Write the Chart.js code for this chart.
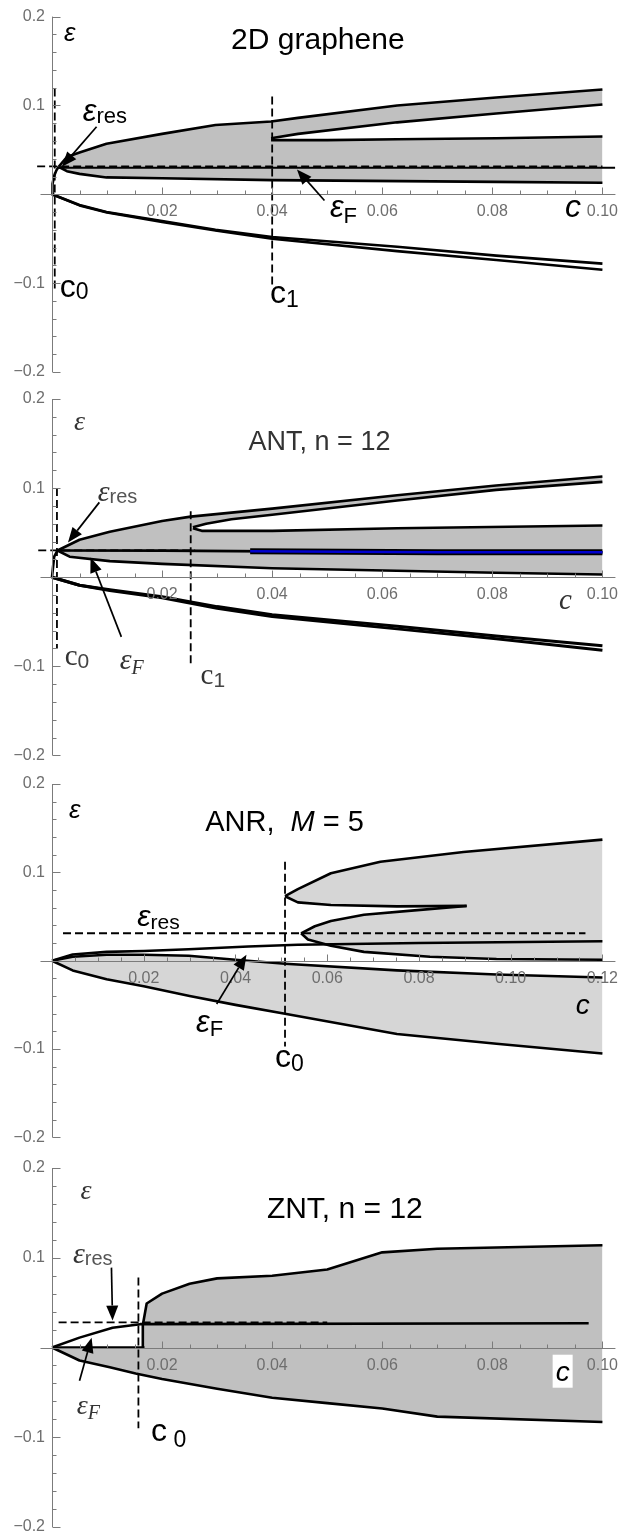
<!DOCTYPE html><html lang="en">
<head>
  <meta charset="UTF-8" />
  <title>Energy bands vs impurity concentration</title>
  <script src="https://cdn.jsdelivr.net/npm/chart.js"></script>
  <style>
    html, body { margin: 0; padding: 0; background: #fff; overflow: hidden; }
    body { position: relative; width: 626px; height: 1533px; }
    canvas { position: absolute; left: 0; }
  </style>
</head>
<body>
  <canvas id="p1" width="626" height="392" style="top:0px"></canvas>
  <canvas id="p2" width="626" height="392" style="top:380px"></canvas>
  <canvas id="p3" width="626" height="392" style="top:762px"></canvas>
  <canvas id="p4" width="626" height="400" style="top:1145px"></canvas>
  <script>
// ---- 2D graphene (c, eps) ----
const grTop    = [[0.0012,0.031],[0.0027,0.042],[0.005,0.047],[0.0099,0.057],[0.02,0.068],[0.0297,0.078],[0.0398,0.082],[0.0447,0.086],[0.0627,0.100],[0.0807,0.109],[0.1,0.118]];
const grUpLow  = [[0.0398,0.063],[0.0447,0.068],[0.0627,0.081],[0.0807,0.091],[0.1,0.101]];
const grMidTop = [[0.0398,0.061],[0.05,0.061],[0.0627,0.062],[0.0807,0.063],[0.1,0.065]];
const grMidBot = [[0.0012,0.031],[0.0027,0.026],[0.005,0.023],[0.0099,0.019],[0.02,0.018],[0.04,0.016],[0.0807,0.014],[0.1,0.013]];
const grRise   = [[0,0],[0.0001,0.012],[0.0004,0.021],[0.0008,0.027],[0.0012,0.031]];
const grFermi  = [[0.0012,0.030],[0.1023,0.030]];
const grRes    = [[-0.0027,0.0315],[0.1,0.0315]];
const grLowA   = [[0,0],[0.005,-0.012],[0.0099,-0.020],[0.02,-0.030],[0.0297,-0.040],[0.04,-0.048],[0.0627,-0.059],[0.0807,-0.069],[0.1,-0.078]];
const grLowB   = [[0,0],[0.005,-0.0125],[0.01,-0.0205],[0.02,-0.031],[0.03,-0.041],[0.04,-0.050],[0.0627,-0.064],[0.0807,-0.074],[0.1,-0.085]];
const grC0     = [[0.0005,0.119],[0.0005,-0.108]];
const grC1     = [[0.04,0.110],[0.04,-0.102]];

// ---- ANT, n = 12 ----
const antTop    = [[0.001,0.030],[0.005,0.042],[0.0105,0.051],[0.02,0.063],[0.0252,0.068],[0.04,0.077],[0.0627,0.092],[0.0807,0.103],[0.1,0.113]];
const antUpLow  = [[0.0256,0.056],[0.028,0.060],[0.0326,0.065],[0.04,0.070],[0.0627,0.086],[0.0807,0.098],[0.1,0.107]];
const antMidTop = [[0.0256,0.055],[0.0272,0.052],[0.04,0.052],[0.0627,0.055],[0.1,0.058]];
const antMidBot = [[0.001,0.030],[0.0032,0.023],[0.0105,0.018],[0.02,0.015],[0.04,0.010],[0.0807,0.005],[0.1,0.003]];
const antRise   = [[0,0],[0.0002,0.012],[0.0004,0.023],[0.001,0.030]];
const antFermi  = [[0.001,0.030],[0.02,0.0298],[0.04,0.029],[0.07,0.028],[0.1,0.028]];
const antBlue   = [[0.036,0.0292],[0.07,0.028],[0.1,0.028]];
const antRes    = [[-0.0025,0.030],[0.026,0.030]];
const antLowA   = [[0,0],[0.005,-0.009],[0.0105,-0.014],[0.02,-0.022],[0.03,-0.033],[0.04,-0.042],[0.0627,-0.055],[0.0807,-0.066],[0.1,-0.077]];
const antLowB   = [[0,0],[0.005,-0.009],[0.0105,-0.015],[0.02,-0.023],[0.03,-0.035],[0.04,-0.044],[0.0627,-0.058],[0.0807,-0.069],[0.1,-0.082]];
const antC0     = [[0.0009,0.10],[0.0009,-0.08]];
const antC1     = [[0.0252,0.074],[0.0252,-0.10]];

// ---- ANR, M = 5 ----
const anrLensTop = [[0.0508,0.073],[0.0536,0.081],[0.0608,0.099],[0.0716,0.112],[0.0897,0.123],[0.12,0.137]];
const anrLensBot = [[0.0508,0.073],[0.0536,0.066],[0.0608,0.063],[0.0752,0.0615],[0.0904,0.062]];
const anrMidTop  = [[0.0543,0.031],[0.0573,0.039],[0.0608,0.045],[0.068,0.052],[0.079,0.057],[0.0904,0.062]];
const anrMidLow  = [[0.0543,0.031],[0.0558,0.024],[0.0608,0.017],[0.068,0.010],[0.0824,0.0045],[0.0969,0.002],[0.12,0.001]];
const anrFermi   = [[0,0],[0.0045,0.007],[0.0119,0.010],[0.02,0.011],[0.0298,0.013],[0.0428,0.016],[0.0536,0.018],[0.08,0.020],[0.12,0.022]];
const anrLowTop  = [[0,0],[0.0045,0.0045],[0.0119,0.0067],[0.02,0.0067],[0.0298,0.0056],[0.04,0.001],[0.0508,-0.0034],[0.0752,-0.011],[0.0969,-0.0157],[0.12,-0.019]];
const anrLowBot  = [[0,0],[0.0045,-0.011],[0.0119,-0.021],[0.02,-0.029],[0.03,-0.040],[0.04,-0.050],[0.0508,-0.060],[0.0752,-0.083],[0.0969,-0.094],[0.12,-0.105]];
const anrRes     = [[0.0024,0.031],[0.1163,0.031]];
const anrC0      = [[0.0508,0.112],[0.0508,-0.097]];

// ---- ZNT, n = 12 ----
const znTop   = [[0.0165,0],[0.0165,0.025],[0.0172,0.049],[0.02,0.060],[0.025,0.071],[0.03,0.077],[0.04,0.080],[0.05,0.087],[0.06,0.106],[0.07,0.110],[0.1,0.114]];
const znBot   = [[0,0],[0.005,-0.0145],[0.0105,-0.022],[0.0152,-0.029],[0.02,-0.035],[0.03,-0.046],[0.04,-0.056],[0.05,-0.062],[0.06,-0.068],[0.07,-0.077],[0.1,-0.083]];
const znAxis  = [[0,0],[0.0168,0]];
const znFermi = [[0,0],[0.005,0.011],[0.011,0.022],[0.016,0.026],[0.0975,0.027]];
const znRes   = [[0.0012,0.028],[0.05,0.028]];
const znC0    = [[0.0157,0.078],[0.0157,-0.090]];

const AXIS = '#7b7b7b', TICK = '#6e6e6e';
const SANS = '"Liberation Sans", Arial, sans-serif';
const SERIF = '"Liberation Serif", "DejaVu Serif", serif';
const GRAY = '#c0c0c0', LIGHT = '#d6d6d6';
const LW = 2.6;

const pts = arr => arr.map(([c, e]) => ({x: c, y: e}));
const rev = arr => arr.slice().reverse();
const line = (arr, o) => Object.assign({data: pts(arr), borderColor: '#000', borderWidth: LW, fill: false,
  pointRadius: 0, clip: false, order: 2, borderJoinStyle: 'round', tension: 0}, o || {});
const dashed = (arr, o) => line(arr, Object.assign({borderWidth: 1.8, borderDash: [8, 4], order: 0}, o || {}));
const shape = (arr, color) => ({data: pts(arr), borderWidth: 0, borderColor: 'rgba(0,0,0,0)', backgroundColor: color,
  fill: 'shape', pointRadius: 0, order: 10, tension: 0});

// Mathematica-like axes: through the origin, ticks pointing inward
const mmaAxes = {
  id: 'mmaAxes',
  afterDatasetsDraw(chart) {
    const {ctx, scales: {x, y}} = chart;
    const x0 = Math.round(x.getPixelForValue(0)) + 0.5, y0 = Math.round(y.getPixelForValue(0)) + 0.5;
    ctx.save();
    ctx.strokeStyle = AXIS;
    ctx.lineWidth = 1;
    ctx.beginPath();
    ctx.moveTo(x0, y.getPixelForValue(0.2));
    ctx.lineTo(x0, y.getPixelForValue(-0.2));
    ctx.moveTo(x0 - 12, y0);
    ctx.lineTo(x.getPixelForValue(x.max) + 13, y0);
    for (let i = -10; i <= 10; i++) {
      const py = Math.round(y.getPixelForValue(i * 0.02)) + 0.5;
      ctx.moveTo(x0, py);
      ctx.lineTo(x0 + (i % 5 === 0 ? 8 : 4), py);
    }
    const n = Math.round(x.max / 0.005);
    for (let i = 1; i <= n; i++) {
      const px = Math.round(x.getPixelForValue(i * 0.005)) + 0.5;
      ctx.moveTo(px, y0);
      ctx.lineTo(px, y0 - (i % 4 === 0 ? 7 : 4));
    }
    ctx.stroke();
    ctx.restore();
  }
};

// text labels and arrows placed in data coordinates
function notesPlugin(notes, arrows) {
  return {
    id: 'notes',
    afterDraw(chart) {
      const {ctx, scales: {x, y}} = chart;
      const px = p => [x.getPixelForValue(p[0]), y.getPixelForValue(p[1])];
      ctx.save();
      arrows.forEach(a => {
        const [x1, y1] = px(a.from), [x2, y2] = px(a.to);
        const ang = Math.atan2(y2 - y1, x2 - x1), hl = 15, hw = 6;
        const bx = x2 - hl * Math.cos(ang), by = y2 - hl * Math.sin(ang);
        ctx.strokeStyle = '#000';
        ctx.lineWidth = 1.7;
        ctx.beginPath();
        ctx.moveTo(x1, y1);
        ctx.lineTo(bx, by);
        ctx.stroke();
        ctx.fillStyle = '#000';
        ctx.beginPath();
        ctx.moveTo(x2, y2);
        ctx.lineTo(bx + hw * Math.sin(ang), by - hw * Math.cos(ang));
        ctx.lineTo(bx - hw * Math.sin(ang), by + hw * Math.cos(ang));
        ctx.closePath();
        ctx.fill();
      });
      ctx.textBaseline = 'alphabetic';
      notes.forEach(nt => {
        let [tx, ty] = px(nt.at);
        let w = 0;
        nt.runs.forEach(r => { ctx.font = r[1]; w += ctx.measureText(r[0]).width; });
        if (nt.align === 'center') tx -= w / 2;
        if (nt.box) {
          ctx.fillStyle = '#fff';
          ctx.fillRect(tx - 3, ty - 26, w + 6, 33);
        }
        nt.runs.forEach(r => {
          ctx.font = r[1];
          ctx.fillStyle = r[3] || '#000';
          ctx.fillText(r[0], tx, ty + (r[2] || 0));
          tx += ctx.measureText(r[0]).width;
        });
      });
      ctx.restore();
    }
  };
}

function makeChart(id, xMax, padTop, padBottom, datasets, notes, arrows) {
  return new Chart(document.getElementById(id), {
    type: 'line',
    data: {datasets},
    options: {
      responsive: false,
      animation: false,
      events: [],
      layout: {padding: {left: 0, right: 19, top: padTop, bottom: padBottom}},
      plugins: {legend: {display: false}, tooltip: {enabled: false}},
      scales: {
        x: {
          type: 'linear', min: 0, max: xMax, position: {y: 0},
          grid: {display: false, drawTicks: false}, border: {display: false},
          ticks: {stepSize: 0.02, autoSkip: false, maxRotation: 0, padding: 8, color: TICK, z: 1,
            font: {family: SANS, size: 16},
            callback: v => Math.abs(v) < 1e-9 ? '' : v.toFixed(2)}
        },
        y: {
          type: 'linear', min: -0.2, max: 0.2, position: 'left',
          grid: {display: false, drawTicks: false}, border: {display: false},
          afterFit: s => { s.width = 52; },
          ticks: {stepSize: 0.1, padding: 7, color: TICK, z: 1,
            font: {family: SANS, size: 16},
            callback: v => {
              const r = Math.round(v * 10) / 10;
              if (r === 0) return '';
              return (r < 0 ? '\u2212' : '') + Math.abs(r).toFixed(1);
            }}
        }
      }
    },
    plugins: [mmaAxes, notesPlugin(notes, arrows)]
  });
}

// panel 1
makeChart('p1', 0.1, 16, 20, [
  dashed(grRes), dashed(grC0), dashed(grC1),
  line(grTop), line(grUpLow), line(grMidTop), line(grMidBot), line(grRise),
  line(grFermi, {borderWidth: 2}), line(grLowA), line(grLowB),
  shape(grTop.concat(rev(grUpLow), grMidTop, rev(grMidBot)), GRAY)
], [
  {at: [0.0022, 0.173], runs: [['\u03b5', 'italic 26px ' + SANS]]},
  {at: [0.0483, 0.164], align: 'center', runs: [['2D graphene', '30px ' + SANS]]},
  {at: [0.0056, 0.083], runs: [['\u03b5', 'italic 31px ' + SANS], ['res', '22px ' + SANS, 2]]},
  {at: [0.0505, -0.026], runs: [['\u03b5', 'italic 31px ' + SANS], ['F', '22px ' + SANS, 6]]},
  {at: [0.0014, -0.116], runs: [['c', '32px ' + SANS], ['0', '23px ' + SANS, 2]]},
  {at: [0.0396, -0.122], runs: [['c', '32px ' + SANS], ['1', '23px ' + SANS, 4]]},
  {at: [0.0932, -0.026], runs: [['c', 'italic 32px ' + SANS]]}
], [
  {from: [0.0081, 0.076], to: [0.0018, 0.031]},
  {from: [0.0495, -0.007], to: [0.0445, 0.028]}
]);

// panel 2
makeChart('p2', 0.1, 19, 15, [
  dashed(antRes), dashed(antC0), dashed(antC1),
  line(antBlue, {borderColor: '#0000d0', borderWidth: 2.6, order: 1}),
  line(antBlue, {borderWidth: 6}),
  line(antTop), line(antUpLow), line(antMidTop), line(antMidBot), line(antRise),
  line(antFermi), line(antLowA, {borderWidth: 3}), line(antLowB, {borderWidth: 3}),
  shape(antTop.concat(rev(antUpLow), antMidTop, rev(antMidBot)), GRAY)
], [
  {at: [0.004, 0.165], runs: [['\u03b5', 'italic 28px ' + SERIF, 0, '#333']]},
  {at: [0.0486, 0.143], align: 'center', runs: [['ANT, n = 12', '27px ' + SANS, 0, '#333']]},
  {at: [0.0083, 0.085], runs: [['\u03b5', 'italic 30px ' + SERIF, 0, '#333'], ['res', '20px ' + SANS, 2, '#555']]},
  {at: [0.0123, -0.103], runs: [['\u03b5', 'italic 30px ' + SERIF, 0, '#333'], ['F', 'italic 20px ' + SERIF, 5, '#333']]},
  {at: [0.0023, -0.098], runs: [['c', '29px ' + SERIF, 0, '#333'], ['0', '21px ' + SANS, 3, '#444']]},
  {at: [0.027, -0.12], runs: [['c', '29px ' + SERIF, 0, '#333'], ['1', '21px ' + SANS, 3, '#444']]},
  {at: [0.0921, -0.036], runs: [['c', 'italic 29px ' + SERIF, 0, '#333']]}
], [
  {from: [0.0086, 0.084], to: [0.0029, 0.039]},
  {from: [0.0126, -0.067], to: [0.007, 0.022]}
]);

// panel 3
makeChart('p3', 0.12, 22, 13, [
  dashed(anrRes, {borderWidth: 2}), dashed(anrC0),
  line(anrLensTop), line(anrLensBot), line(anrMidTop), line(anrMidLow),
  line(anrFermi), line(anrLowTop), line(anrLowBot),
  shape(anrLensTop.concat(rev(anrMidLow), anrMidTop, rev(anrLensBot)), LIGHT),
  shape(anrLowTop.concat(rev(anrLowBot)), LIGHT)
], [
  {at: [0.0037, 0.162], runs: [['\u03b5', 'italic 26px ' + SANS]]},
  {at: [0.0507, 0.147], align: 'center', runs: [['ANR,  ', '29px ' + SANS], ['M', 'italic 29px ' + SANS], [' = 5', '29px ' + SANS]]},
  {at: [0.0186, 0.039], runs: [['\u03b5', 'italic 30px ' + SANS], ['res', '21px ' + SANS, 3]]},
  {at: [0.0314, -0.081], runs: [['\u03b5', 'italic 31px ' + SANS], ['F', '22px ' + SANS, 4]]},
  {at: [0.0486, -0.12], runs: [['c', '32px ' + SANS], ['0', '23px ' + SANS, 4]]},
  {at: [0.1142, -0.060], runs: [['c', 'italic 28px ' + SANS]]}
], [
  {from: [0.0359, -0.049], to: [0.0424, 0.0067]}
]);

// panel 4
makeChart('p4', 0.1, 23, 18, [
  dashed(znRes), dashed(znC0),
  line(znTop), line(znBot), line(znAxis), line(znFermi),
  shape([[0, 0]].concat(znTop, rev(znBot)), GRAY)
], [
  {at: [0.0052, 0.166], runs: [['\u03b5', 'italic 28px ' + SERIF, 0, '#333']]},
  {at: [0.0532, 0.144], align: 'center', runs: [['ZNT, n = 12', '30px ' + SANS]]},
  {at: [0.0038, 0.094], runs: [['\u03b5', 'italic 30px ' + SERIF, 0, '#333'], ['res', '20px ' + SANS, 2, '#555']]},
  {at: [0.0045, -0.074], runs: [['\u03b5', 'italic 28px ' + SERIF, 0, '#333'], ['F', 'italic 20px ' + SERIF, 5, '#333']]},
  {at: [0.018, -0.104], runs: [['c', '32px ' + SANS], [' 0', '23px ' + SANS, 6]]},
  {at: [0.0915, -0.037], box: true, runs: [['c', 'italic 28px ' + SANS]]}
], [
  {from: [0.0108, 0.089], to: [0.011, 0.030]},
  {from: [0.005, -0.037], to: [0.0072, 0.011]}
]);
  </script>
</body>
</html>
